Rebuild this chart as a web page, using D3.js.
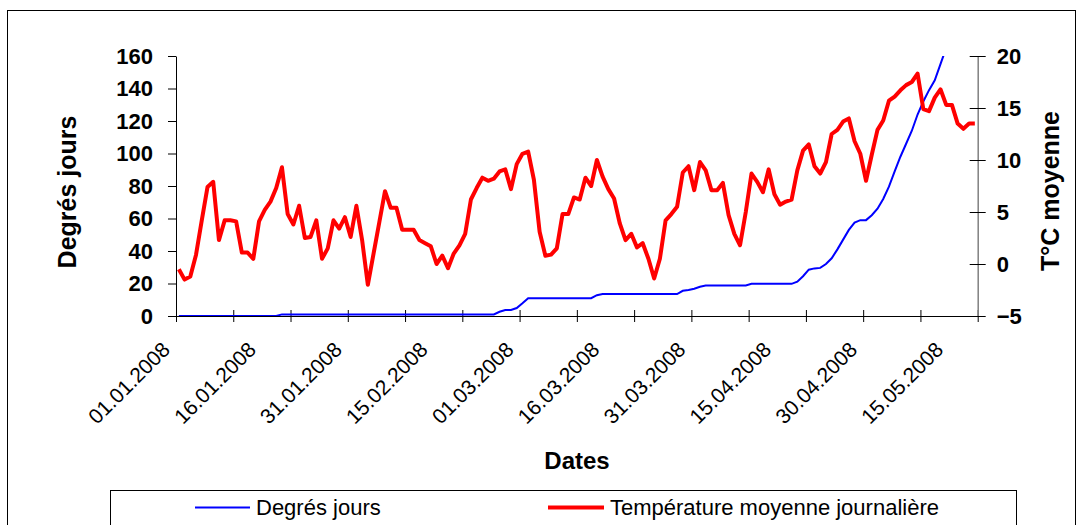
<!DOCTYPE html>
<html>
<head>
<meta charset="utf-8">
<script src="https://cdn.jsdelivr.net/npm/d3@7"></script>
<style>
    body { margin: 0; background: #ffffff; }
    svg { display: block; font-family: "Liberation Sans", Arial, sans-serif; }
</style>
</head>
<body>
<svg id="chart" width="1083" height="525"></svg>
<script>
// daily mean temperature (°C), one value per day from 01.01.2008
const temperature = [
    -0.5, -1.5, -1.2, 0.9, 4.2, 7.4, 7.9, 2.3, 4.2, 4.2,
    4.1, 1.1, 1.1, 0.5, 4.1, 5.2, 6.0, 7.3, 9.3, 4.8,
    3.8, 5.6, 2.5, 2.6, 4.2, 0.5, 1.5, 4.2, 3.4, 4.5,
    2.6, 5.6, 2.3, -2.0, 1.0, 4.0, 7.0, 5.4, 5.4, 3.3,
    3.3, 3.3, 2.3, 2.0, 1.7, 0.0, 0.8, -0.4, 1.0, 1.8,
    2.9, 6.2, 7.3, 8.3, 8.0, 8.2, 8.9, 9.1, 7.2, 9.6,
    10.6, 10.8, 8.1, 3.1, 0.8, 0.9, 1.5, 4.8, 4.8, 6.4,
    6.2, 8.3, 7.5, 10.0, 8.4, 7.2, 6.3, 3.9, 2.3, 2.9,
    1.6, 2.0, 0.5, -1.4, 0.5, 4.2, 4.8, 5.5, 8.8, 9.4,
    7.1, 9.8, 9.0, 7.1, 7.1, 7.8, 4.7, 2.9, 1.8, 5.0,
    8.7, 7.9, 6.9, 9.1, 6.7, 5.7, 6.0, 6.2, 9.0, 10.9,
    11.5, 9.4, 8.7, 9.8, 12.5, 12.9, 13.7, 14.0, 11.8, 10.6,
    8.0, 10.5, 12.9, 13.8, 15.7, 16.1, 16.7, 17.2, 17.5, 18.3,
    14.9, 14.7, 16.0, 16.8, 15.3, 15.3, 13.5, 13.0, 13.5, 13.5
];

// cumulated degree days, same days (line leaves the plot at the top)
const degreeDays = [
    0, 0, 0, 0, 0, 0, 0, 0, 0, 0,
    0, 0, 0, 0, 0, 0, 0, 0, 1, 1,
    1, 1, 1, 1, 1, 1, 1, 1, 1, 1,
    1, 1, 1, 1, 1, 1, 1, 1, 1, 1,
    1, 1, 1, 1, 1, 1, 1, 1, 1, 1,
    1, 1, 1, 1, 1, 1, 2.6, 3.7, 3.7, 4.9,
    7.8, 10.9, 11, 11, 11, 11, 11, 11, 11, 11,
    11, 11, 11, 12.8, 13.5, 13.5, 13.5, 13.5, 13.5, 13.5,
    13.5, 13.5, 13.5, 13.5, 13.5, 13.5, 13.5, 13.5, 15.5, 16,
    16.8, 18, 18.8, 18.8, 18.8, 18.8, 18.8, 18.8, 18.8, 18.8,
    19.8, 19.8, 19.8, 19.8, 19.8, 19.8, 19.8, 19.8, 21.1, 24.5,
    28.5, 29.3, 29.6, 32, 35.5, 41, 47, 53, 57.5, 59,
    59, 62, 66, 72, 79.6, 89, 98, 106, 114, 124,
    132, 139, 145, 155, 165
];

const labelDays = [0, 15, 30, 45, 60, 75, 90, 105, 120, 135];
const dateLabels = ["01.01.2008", "16.01.2008", "31.01.2008", "15.02.2008", "01.03.2008",
    "16.03.2008", "31.03.2008", "15.04.2008", "30.04.2008", "15.05.2008"];
const leftTicks = [0, 20, 40, 60, 80, 100, 120, 140, 160];
const rightTicks = [-5, 0, 5, 10, 15, 20];
const seriesNames = ["Degrés jours", "Température moyenne journalière"];

const svg = d3.select("#chart");
const plot = { left: 176, right: 977.7, top: 56, bottom: 316 };

// outer frame
svg.append("rect")
    .attr("x", 7.5).attr("y", 10.5)
    .attr("width", 1068).attr("height", 530)
    .attr("fill", "none").attr("stroke", "#000").attr("stroke-width", 1);

const x = d3.scaleLinear().domain([0, temperature.length]).range([plot.left, plot.right]);
const yL = d3.scaleLinear().domain([0, 160]).range([plot.bottom, plot.top]);
const yR = d3.scaleLinear().domain([-5, 20]).range([plot.bottom, plot.top]);

svg.append("clipPath").attr("id", "plotClip")
    .append("rect")
    .attr("x", plot.left).attr("y", plot.top)
    .attr("width", plot.right - plot.left).attr("height", plot.bottom - plot.top);

// x axis: ticks every 10 days, crossing the line
const xAxis = svg.append("g")
    .attr("transform", `translate(0,${plot.bottom})`)
    .call(d3.axisBottom(x).tickValues(d3.range(0, temperature.length + 1, 10))
        .tickSize(6).tickSizeOuter(0).tickFormat(""));
xAxis.selectAll(".tick line").attr("y1", -6).attr("y2", 6);
xAxis.select(".domain").attr("stroke", "#000");

// date labels, centred on their day, rotated
const xLabels = svg.append("g")
    .attr("transform", `translate(0,${plot.bottom})`)
    .call(d3.axisBottom(x).tickValues(labelDays.map(d => d + 0.5))
        .tickSize(0).tickFormat((d, i) => dateLabels[i]));
xLabels.select(".domain").remove();
xLabels.selectAll(".tick text")
    .attr("font-size", 21)
    .attr("font-family", "Liberation Sans, Arial, sans-serif")
    .attr("fill", "#000")
    .attr("text-anchor", "end")
    .attr("dy", null)
    .attr("y", 0)
    .attr("transform", "translate(-8,35) rotate(-45)");

// left axis
const leftAxis = svg.append("g")
    .attr("transform", `translate(${plot.left},0)`)
    .call(d3.axisLeft(yL).tickValues(leftTicks).tickSize(8).tickSizeOuter(0).tickPadding(15));
leftAxis.selectAll("text")
    .attr("font-size", 22).attr("font-weight", "bold")
    .attr("font-family", "Liberation Sans, Arial, sans-serif").attr("fill", "#000");

// right axis, grey line with crossing ticks
const rightAxis = svg.append("g")
    .attr("transform", `translate(${plot.right},0)`)
    .call(d3.axisRight(yR).tickValues(rightTicks).tickSize(8).tickSizeOuter(0).tickPadding(11));
rightAxis.select(".domain").attr("stroke", "#808080").attr("stroke-width", 1.5);
rightAxis.selectAll(".tick line").attr("x1", -8);
rightAxis.selectAll("text")
    .attr("font-size", 22).attr("font-weight", "bold")
    .attr("font-family", "Liberation Sans, Arial, sans-serif").attr("fill", "#000");

// series
const lineDD = d3.line()
    .x((d, i) => x(i + 0.5))
    .y(d => yL(d));
const lineT = d3.line()
    .x((d, i) => x(i + 0.5))
    .y(d => yR(d));

svg.append("path")
    .datum(degreeDays)
    .attr("clip-path", "url(#plotClip)")
    .attr("fill", "none")
    .attr("stroke", "#0000ff")
    .attr("stroke-width", 2)
    .attr("d", lineDD);

svg.append("path")
    .datum(temperature)
    .attr("fill", "none")
    .attr("stroke", "#ff0000")
    .attr("stroke-width", 4)
    .attr("stroke-linejoin", "round")
    .attr("d", lineT);

// axis titles
svg.append("text")
    .attr("transform", "translate(76,192) rotate(-90)")
    .attr("text-anchor", "middle")
    .attr("font-size", 25).attr("font-weight", "bold")
    .text("Degrés jours");

svg.append("text")
    .attr("transform", "translate(1059,191) rotate(-90)")
    .attr("text-anchor", "middle")
    .attr("font-size", 25).attr("font-weight", "bold")
    .text("T°C moyenne");

svg.append("text")
    .attr("x", 577).attr("y", 469)
    .attr("text-anchor", "middle")
    .attr("font-size", 24).attr("font-weight", "bold")
    .text("Dates");

// legend
const legend = svg.append("g");
legend.append("rect")
    .attr("x", 110.5).attr("y", 490.5)
    .attr("width", 906).attr("height", 60)
    .attr("fill", "#fff").attr("stroke", "#000").attr("stroke-width", 1);

const legendItems = [
    { name: seriesNames[0], color: "#0000ff", width: 2, x0: 195, x1: 250 },
    { name: seriesNames[1], color: "#ff0000", width: 4, x0: 548, x1: 604 }
];
legendItems.forEach(item => {
    legend.append("line")
        .attr("x1", item.x0).attr("x2", item.x1)
        .attr("y1", 507.5).attr("y2", 507.5)
        .attr("stroke", item.color).attr("stroke-width", item.width);
    legend.append("text")
        .attr("x", item.x1 + 6).attr("y", 515)
        .attr("font-size", 22)
        .text(item.name);
});
</script>
</body>
</html>
